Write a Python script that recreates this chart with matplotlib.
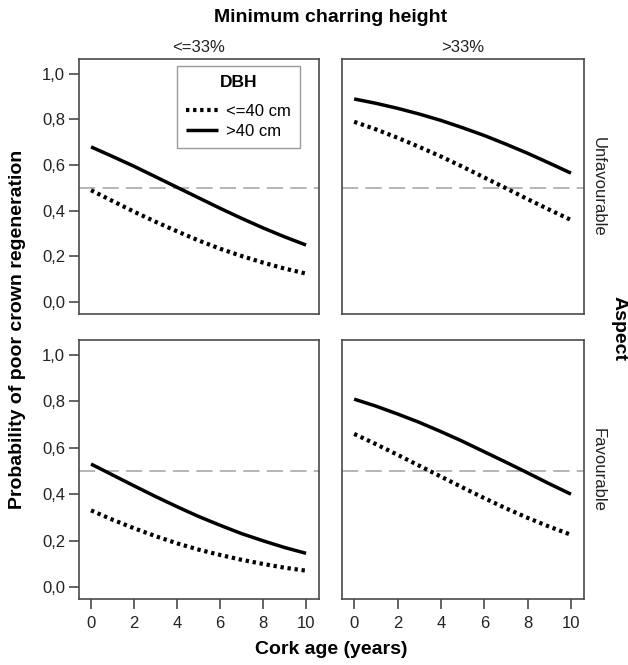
import matplotlib.pyplot as plt

plt.rcParams['font.family'] = ['Liberation Sans', 'DejaVu Sans']

cork_age = [0, 1, 2, 3, 4, 5, 6, 7, 8, 9, 10]

# Aspect unfavourable, charring <=33%
unf_low_small = [0.490, 0.443, 0.396, 0.352, 0.310, 0.270, 0.234, 0.202, 0.173, 0.147, 0.125]
unf_low_large = [0.680, 0.638, 0.595, 0.549, 0.503, 0.457, 0.411, 0.367, 0.325, 0.286, 0.250]
# Aspect unfavourable, charring >33%
unf_high_small = [0.790, 0.757, 0.720, 0.680, 0.638, 0.593, 0.546, 0.499, 0.451, 0.405, 0.360]
unf_high_large = [0.890, 0.871, 0.849, 0.824, 0.796, 0.764, 0.730, 0.692, 0.652, 0.609, 0.565]
# Aspect favourable, charring <=33%
fav_low_small = [0.330, 0.290, 0.253, 0.219, 0.188, 0.161, 0.138, 0.117, 0.099, 0.083, 0.070]
fav_low_large = [0.530, 0.483, 0.436, 0.390, 0.346, 0.304, 0.266, 0.230, 0.199, 0.170, 0.145]
# Aspect favourable, charring >33%
fav_high_small = [0.660, 0.616, 0.570, 0.523, 0.476, 0.429, 0.383, 0.339, 0.298, 0.260, 0.225]
fav_high_large = [0.810, 0.780, 0.746, 0.710, 0.670, 0.628, 0.583, 0.538, 0.492, 0.445, 0.400]

col_labels = ['<=33%', '>33%']
row_labels = ['Unfavourable', 'Favourable']
dbh_labels = ['<=40 cm', '>40 cm']
yticks = [0.0, 0.2, 0.4, 0.6, 0.8, 1.0]
ytick_labels = ['0,0', '0,2', '0,4', '0,6', '0,8', '1,0']
xticks = [0, 2, 4, 6, 8, 10]

panels = [[(unf_low_small, unf_low_large), (unf_high_small, unf_high_large)],
          [(fav_low_small, fav_low_large), (fav_high_small, fav_high_large)]]

W, H = 628, 665
fig = plt.figure(figsize=(W / 100, H / 100), dpi=100)

col_x = [(79, 319), (342, 584)]
row_y = [(59, 314), (340, 599)]
edge = '#4a4a4a'

for r in range(2):
    for c in range(2):
        x0, x1 = col_x[c]
        y0, y1 = row_y[r]
        ax = fig.add_axes([x0 / W, 1 - y1 / H, (x1 - x0) / W, (y1 - y0) / H])
        small, large = panels[r][c]
        ax.axhline(0.5, color='#b0b0b0', lw=1.3, dashes=(9, 4))
        ax.plot(cork_age, small, color='black', lw=3.0, linestyle=(0, (0.8, 0.9)),
                dash_capstyle='butt', label=dbh_labels[0])
        ax.plot(cork_age, large, color='black', lw=2.5, solid_capstyle='butt',
                label=dbh_labels[1])
        ax.set_xlim(-0.56, 10.6)
        ax.set_ylim(-0.052, 1.065)
        ax.set_xticks(xticks)
        ax.set_yticks(yticks)
        for s in ax.spines.values():
            s.set_color(edge)
            s.set_linewidth(1.2)
        ax.tick_params(direction='out', length=7, width=1.2, color=edge,
                       labelsize=12, labelcolor='#222222')
        ax.tick_params(axis='y', pad=3)
        ax.tick_params(axis='x', pad=5)
        if c == 0:
            ax.set_yticklabels(ytick_labels)
        else:
            ax.tick_params(axis='y', left=False, labelleft=False)
        if r == 0:
            ax.tick_params(axis='x', bottom=False, labelbottom=False)
        if r == 0 and c == 0:
            leg = ax.legend(loc='upper left', bbox_to_anchor=(0.408, 0.973),
                            borderaxespad=0, title='DBH', fontsize=12,
                            title_fontproperties={'weight': 'bold', 'size': 12.5},
                            fancybox=False, edgecolor='#999999', framealpha=1,
                            handlelength=1.9, handletextpad=0.5,
                            borderpad=0.55, labelspacing=0.3)
            leg.get_frame().set_linewidth(1.0)
            leg._legend_box.sep = 10
        if r == 0:
            fig.text((x0 + x1) / 2 / W, 1 - 48 / H, col_labels[c], ha='center',
                     va='center', fontsize=12, color='#222222')
        if c == 1:
            fig.text(598 / W, 1 - (y0 + y1) / 2 / H, row_labels[r], ha='center',
                     va='center', rotation=-90, fontsize=12, color='#222222')

fig.text(331 / W, 1 - 18 / H, 'Minimum charring height', ha='center', va='center',
         fontsize=14, fontweight='bold')
fig.text(331 / W, 1 - 650 / H, 'Cork age (years)', ha='center', va='center',
         fontsize=14, fontweight='bold')
fig.text(18 / W, 1 - 329 / H, 'Probability of poor crown regeneration', ha='center',
         va='center', rotation=90, fontsize=14, fontweight='bold')
fig.text(619 / W, 1 - 328 / H, 'Aspect', ha='center', va='center', rotation=-90,
         fontsize=14, fontweight='bold')

fig.savefig('out.png', dpi=100)
